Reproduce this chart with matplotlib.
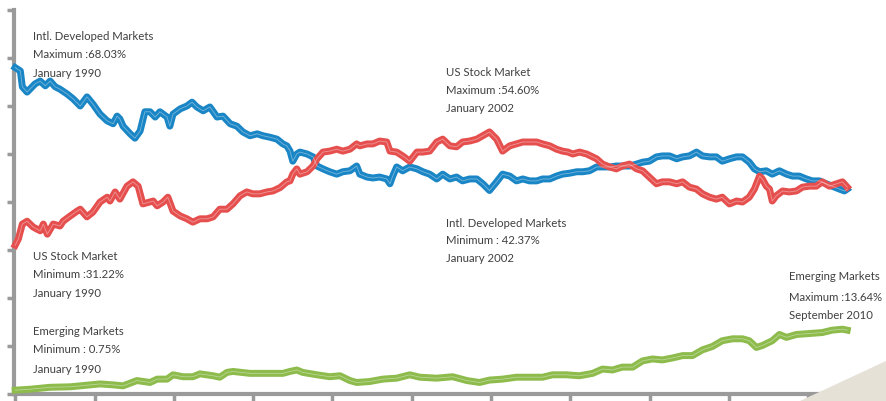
import matplotlib
matplotlib.use("Agg")
import matplotlib.pyplot as plt
from matplotlib.patches import Polygon

# share of global equity market (%)
intl_years = [1990.00, 1990.13, 1990.18, 1990.30, 1990.50, 1990.63, 1990.76, 1990.88, 1991.01, 1991.13,
              1991.31, 1991.46, 1991.64, 1991.81, 1991.96, 1992.14, 1992.32, 1992.47, 1992.57, 1992.64,
              1992.72, 1992.90, 1993.02, 1993.15, 1993.27, 1993.40, 1993.53, 1993.65, 1993.83, 1993.90,
              1993.98, 1994.16, 1994.33, 1994.46, 1994.58, 1994.74, 1994.91, 1995.09, 1995.24, 1995.42,
              1995.59, 1995.74, 1995.92, 1996.10, 1996.25, 1996.42, 1996.60, 1996.75, 1996.85, 1996.93,
              1997.00, 1997.10, 1997.18, 1997.36, 1997.51, 1997.61, 1997.76, 1997.93, 1998.11, 1998.26,
              1998.44, 1998.61, 1998.69, 1998.87, 1999.02, 1999.19, 1999.37, 1999.45, 1999.52, 1999.62,
              1999.77, 1999.95, 2000.13, 2000.28, 2000.45, 2000.63, 2000.78, 2000.96, 2001.13, 2001.28,
              2001.46, 2001.64, 2001.79, 2001.96, 2002.14, 2002.29, 2002.47, 2002.64, 2002.80, 2002.97,
              2003.15, 2003.30, 2003.48, 2003.65, 2003.80, 2003.98, 2004.16, 2004.31, 2004.48, 2004.66,
              2004.81, 2004.99, 2005.16, 2005.31, 2005.49, 2005.67, 2005.82, 2005.99, 2006.17, 2006.32,
              2006.50, 2006.68, 2006.83, 2007.00, 2007.18, 2007.33, 2007.51, 2007.68, 2007.83, 2008.01,
              2008.19, 2008.34, 2008.51, 2008.64, 2008.77, 2008.94, 2009.09, 2009.27, 2009.45, 2009.60,
              2009.77, 2009.95, 2010.10, 2010.28, 2010.45, 2010.60, 2010.78, 2010.91, 2010.98]
intl_share = [68.0, 67.3, 64.0, 62.9, 64.6, 65.2, 64.2, 65.2, 64.0, 63.5,
              62.5, 61.5, 60.0, 61.9, 60.4, 58.3, 56.9, 56.3, 57.9, 57.3,
              55.8, 54.2, 53.3, 54.8, 58.8, 58.8, 57.7, 58.8, 57.7, 55.8,
              58.3, 59.4, 60.0, 60.8, 59.8, 59.0, 59.8, 57.7, 57.9, 56.3,
              55.8, 54.6, 53.8, 54.2, 53.8, 53.5, 53.1, 52.1, 51.7, 50.6,
              48.5, 50.0, 50.4, 50.0, 49.4, 47.5, 46.9, 46.3, 45.8, 46.3,
              46.5, 47.5, 45.8, 45.2, 45.0, 45.2, 44.8, 43.8, 45.4, 47.3,
              46.5, 47.3, 46.9, 46.3, 45.8, 44.8, 45.8, 44.8, 45.2, 44.4,
              44.8, 44.8, 43.8, 42.4, 44.2, 45.8, 45.4, 44.4, 44.8, 44.4,
              44.4, 44.8, 44.8, 45.4, 45.8, 46.0, 46.3, 46.3, 46.5, 47.3,
              47.3, 47.3, 47.5, 47.5, 47.5, 47.9, 48.3, 48.5, 49.4, 49.6,
              49.6, 49.0, 49.4, 49.6, 50.4, 49.6, 49.4, 49.4, 48.5, 49.0,
              49.4, 49.4, 48.3, 46.9, 46.3, 46.5, 45.8, 46.5, 45.8, 45.4,
              45.4, 44.8, 44.4, 44.4, 43.8, 43.3, 42.7, 42.3, 42.7]

us_years = [1990.00, 1990.08, 1990.18, 1990.30, 1990.45, 1990.63, 1990.71, 1990.81, 1990.96, 1991.13,
            1991.21, 1991.39, 1991.56, 1991.64, 1991.81, 1991.96, 1992.14, 1992.32, 1992.39, 1992.52,
            1992.64, 1992.82, 1992.97, 1993.10, 1993.22, 1993.40, 1993.48, 1993.58, 1993.73, 1993.85,
            1993.98, 1994.16, 1994.33, 1994.48, 1994.66, 1994.84, 1994.99, 1995.16, 1995.34, 1995.49,
            1995.67, 1995.84, 1995.99, 1996.17, 1996.35, 1996.50, 1996.68, 1996.85, 1996.93, 1997.00,
            1997.10, 1997.18, 1997.36, 1997.51, 1997.61, 1997.76, 1997.93, 1998.11, 1998.26, 1998.44,
            1998.61, 1998.69, 1998.87, 1999.02, 1999.19, 1999.37, 1999.45, 1999.62, 1999.77, 1999.95,
            2000.13, 2000.28, 2000.45, 2000.63, 2000.78, 2000.96, 2001.13, 2001.28, 2001.46, 2001.64,
            2001.79, 2001.96, 2002.14, 2002.29, 2002.47, 2002.64, 2002.80, 2002.97, 2003.15, 2003.30,
            2003.48, 2003.65, 2003.80, 2003.94, 2004.06, 2004.23, 2004.41, 2004.56, 2004.66, 2004.81,
            2004.99, 2005.16, 2005.31, 2005.49, 2005.67, 2005.82, 2005.99, 2006.17, 2006.32, 2006.50,
            2006.68, 2006.83, 2007.00, 2007.18, 2007.33, 2007.51, 2007.68, 2007.83, 2008.01, 2008.19,
            2008.34, 2008.51, 2008.64, 2008.77, 2008.84, 2008.94, 2009.02, 2009.09, 2009.19, 2009.35,
            2009.52, 2009.70, 2009.85, 2010.03, 2010.20, 2010.35, 2010.53, 2010.71, 2010.86, 2010.98]
us_share = [31.0, 32.3, 35.4, 36.0, 34.8, 34.0, 35.4, 33.3, 35.4, 35.0,
            36.0, 37.1, 38.1, 38.5, 36.9, 37.9, 40.0, 41.0, 40.2, 42.1,
            40.6, 43.3, 44.2, 43.3, 39.6, 40.0, 40.2, 39.2, 40.0, 41.0,
            38.1, 37.1, 36.5, 35.8, 36.5, 36.5, 36.9, 38.5, 38.5, 39.6,
            41.3, 42.1, 41.7, 41.7, 42.1, 42.3, 43.0, 44.2, 44.4, 45.8,
            46.9, 45.8, 46.3, 47.5, 49.0, 50.4, 50.6, 51.0, 50.6, 51.0,
            52.1, 51.7, 52.1, 52.1, 52.7, 52.5, 50.6, 50.4, 49.6, 48.5,
            50.4, 50.4, 50.6, 52.5, 53.1, 51.7, 51.5, 52.5, 52.7, 53.1,
            53.8, 54.6, 53.1, 50.6, 51.7, 52.1, 52.5, 52.5, 52.5, 52.1,
            51.7, 51.0, 50.6, 50.4, 50.0, 50.4, 50.0, 49.4, 49.0, 47.9,
            47.3, 46.9, 47.5, 47.9, 46.9, 46.5, 45.2, 43.8, 44.2, 44.2,
            43.8, 44.2, 43.1, 42.7, 41.7, 41.0, 40.6, 41.0, 39.6, 40.2,
            40.0, 41.0, 42.7, 45.4, 44.8, 43.3, 42.7, 40.2, 41.3, 42.3,
            42.1, 42.3, 43.1, 43.3, 43.3, 44.2, 43.3, 43.8, 44.2, 43.1]

em_years = [1990.00, 1990.38, 1990.88, 1991.39, 1991.89, 1992.14, 1992.47, 1992.72, 1993.07, 1993.40,
            1993.58, 1993.83, 1993.98, 1994.23, 1994.48, 1994.66, 1994.99, 1995.16, 1995.34, 1995.49,
            1995.92, 1996.42, 1996.75, 1996.93, 1997.10, 1997.25, 1997.61, 1997.93, 1998.19, 1998.44,
            1998.61, 1998.94, 1999.27, 1999.62, 1999.95, 2000.20, 2000.63, 2001.03, 2001.39, 2001.71,
            2001.96, 2002.29, 2002.64, 2002.97, 2003.30, 2003.55, 2003.90, 2004.23, 2004.56, 2004.81,
            2005.06, 2005.31, 2005.57, 2005.82, 2006.07, 2006.32, 2006.57, 2006.83, 2007.08, 2007.33,
            2007.58, 2007.83, 2008.09, 2008.34, 2008.51, 2008.69, 2008.84, 2009.09, 2009.27, 2009.45,
            2009.70, 2010.03, 2010.35, 2010.60, 2010.86, 2010.98]
em_share = [0.8, 1.0, 1.4, 1.5, 1.9, 2.1, 1.9, 1.7, 2.8, 2.4,
            3.1, 3.1, 4.0, 3.6, 3.6, 4.2, 3.8, 3.5, 4.5, 4.7,
            4.3, 4.3, 4.3, 4.7, 5.0, 4.5, 4.0, 3.6, 3.8, 2.8,
            2.4, 2.6, 3.1, 3.3, 4.0, 3.5, 3.3, 3.6, 2.8, 2.4,
            2.9, 3.1, 3.5, 3.5, 3.5, 4.0, 4.0, 3.8, 4.3, 5.2,
            5.0, 5.6, 5.6, 6.9, 7.3, 7.1, 7.5, 8.0, 8.0, 9.2,
            9.9, 11.1, 11.5, 11.5, 11.1, 9.7, 10.1, 11.1, 12.4, 11.8,
            12.4, 12.6, 12.8, 13.3, 13.5, 13.3]

notes = [
    (33, [37, 55, 74], ["Intl. Developed Markets", "Maximum :68.03%", "January 1990"]),
    (446, [72, 90, 108], ["US Stock Market", "Maximum :54.60%", "January 2002"]),
    (446, [224, 241, 259], ["Intl. Developed Markets", "Minimum : 42.37%", "January 2002"]),
    (33, [257, 275, 294], ["US Stock Market", "Minimum :31.22%", "January 1990"]),
    (33, [332, 350, 370], ["Emerging Markets", "Minimum : 0.75%", "January 1990"]),
    (789, [277, 298, 316], ["Emerging Markets", "Maximum :13.64%", "September 2010"]),
]

W, H = 886, 402
fig = plt.figure(figsize=(W / 100, H / 100), dpi=100)
ax = fig.add_axes([14 / W, 1 - 395 / H, (848 - 14) / W, (395 - 11) / H])
ax.set_facecolor("none")

# beige corner in the bottom right
fig.patches.append(Polygon([(800 / W, 0), (1, 0), (1, 1 - 362 / H)], closed=True,
                           transform=fig.transFigure, facecolor="#e6e1d7", edgecolor="none", zorder=0))

for xs, ys, col in [(intl_years, intl_share, "#1b86c5"),
                    (us_years, us_share, "#e5504f"),
                    (em_years, em_share, "#8dbb4c")]:
    ax.plot(xs, ys, color=col, lw=5.0, solid_joinstyle="round", clip_on=False, zorder=3)
    ax.plot(xs, ys, color="white", lw=0.6, alpha=0.4, clip_on=False, zorder=4)

ax.set_xlim(1989.97, 2011.0)
ax.set_ylim(0, 80)
ax.set_xticks(range(1990, 2011, 2))
ax.set_yticks(range(0, 81, 10))
ax.set_xticklabels([])
ax.set_yticklabels([])

for s in ["top", "right"]:
    ax.spines[s].set_visible(False)
for s in ["left", "bottom"]:
    ax.spines[s].set_color("#9a9a9a")
    ax.spines[s].set_linewidth(3)
ax.tick_params(axis="both", colors="#9a9a9a", width=2.5, length=5, direction="out")

for x, ys, lines in notes:
    for y, t in zip(ys, lines):
        fig.text(x / W, 1 - y / H, t, fontsize=8.2, family="Lato", color="#404040",
                 ha="left", va="center")

fig.savefig("out.png", dpi=100)
